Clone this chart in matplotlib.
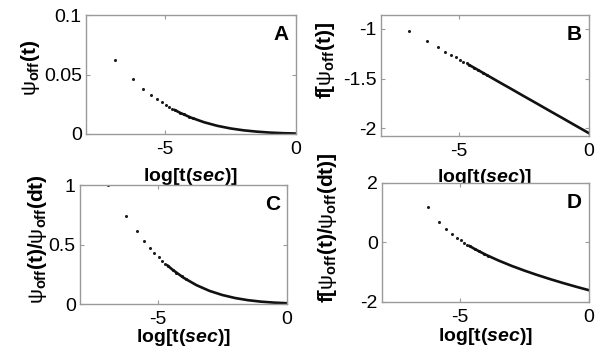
import numpy as np
import matplotlib
matplotlib.use('Agg')
import matplotlib.pyplot as plt

plt.rcParams['font.family'] = ['Liberation Sans', 'DejaVu Sans']
plt.rcParams['mathtext.fontset'] = 'custom'
plt.rcParams['mathtext.rm'] = 'Liberation Sans'
plt.rcParams['mathtext.it'] = 'Liberation Sans:italic'
plt.rcParams['mathtext.bf'] = 'Liberation Sans:bold'
plt.rcParams['mathtext.bfit'] = 'Liberation Sans:italic:bold'

# log[t] of the first, well separated samples
log_t_sparse = [-6.91, -6.21, -5.81, -5.52, -5.30, -5.12, -4.96, -4.83, -4.71, -4.61,
                -4.42, -4.27, -4.07, -3.91]
# dense tail (drawn as a thick run of dots)
log_t_dense = [-4.61, -4.42, -4.0, -3.5, -3.0, -2.5, -2.0, -1.5, -1.0, -0.5, 0.0]

a_sparse = [0.0623, 0.0460, 0.0380, 0.0329, 0.0294, 0.0267, 0.0245, 0.0228, 0.0212, 0.0201,
            0.0179, 0.0164, 0.0145, 0.0131]
a_dense = [0.0201, 0.0179, 0.0138, 0.0099, 0.0069, 0.0047, 0.0031, 0.0020, 0.0012, 0.0007, 0.0004]

b_sparse = [-1.020, -1.125, -1.184, -1.228, -1.260, -1.287, -1.311, -1.330, -1.348, -1.363,
            -1.391, -1.414, -1.443, -1.467]
b_dense = [-1.363, -1.391, -1.454, -1.529, -1.603, -1.678, -1.752, -1.827, -1.901, -1.976, -2.050]

c_sparse = [1.0, 0.738, 0.610, 0.528, 0.472, 0.429, 0.393, 0.366, 0.340, 0.323,
            0.288, 0.263, 0.233, 0.210]
c_dense = [0.323, 0.288, 0.2215, 0.159, 0.111, 0.0759, 0.0502, 0.0321, 0.0199, 0.0119, 0.0067]

d_sparse = [np.nan, 1.186, 0.703, 0.448, 0.284, 0.164, 0.066, -0.009, -0.074, -0.126,
            -0.221, -0.291, -0.378, -0.447]
d_dense = [-0.126, -0.221, -0.410, -0.608, -0.786, -0.947, -1.096, -1.235, -1.366, -1.490, -1.608]

xticks = [-5, 0]
psi = r'\mathrm{\psi}'
panels = [
    # letter, sparse, dense, ylim, yticks, yticklabels, ylabel, axes rect, label coords, xlabel y
    ('A', a_sparse, a_dense, (0, 0.1), [0, 0.05, 0.1], ['0', '0.05', '0.1'],
     r'$%s_{\mathbf{off}}\mathbf{(t)}$' % psi,
     [0.1438, 0.6236, 0.351, 0.334], (-0.21, 0.56), -0.27),
    ('B', b_sparse, b_dense, (-2.078, -0.86), [-2, -1.5, -1], ['-2', '-1.5', '-1'],
     r'$\mathbf{f[}%s_{\mathbf{off}}\mathbf{(t)]}$' % psi,
     [0.637, 0.618, 0.348, 0.340], (-0.21, 0.62), -0.26),
    ('C', c_sparse, c_dense, (0, 1), [0, 0.5, 1], ['0', '0.5', '1'],
     r'$%s_{\mathbf{off}}\mathbf{(t)/}%s_{\mathbf{off}}\mathbf{(dt)}$' % (psi, psi),
     [0.1338, 0.146, 0.346, 0.334], (-0.15, 0.55), -0.19),
    ('D', d_sparse, d_dense, (-2, 2), [-2, 0, 2], ['-2', '0', '2'],
     r'$\mathbf{f[}%s_{\mathbf{off}}\mathbf{(t)/}%s_{\mathbf{off}}\mathbf{(dt)]}$' % (psi, psi),
     [0.639, 0.152, 0.346, 0.334], (-0.21, 0.62), -0.20),
]

fig = plt.figure(figsize=(5.98, 3.56), dpi=100)
frame = '#9a9a9a'

for letter, ys, yd, ylim, yt, ytl, ylab, rect, lc, xl_y in panels:
    ax = fig.add_axes(rect)
    ax.plot(log_t_sparse, ys, 'o', color='#1a1a1a', markersize=2.2, markeredgewidth=0)
    ax.plot(log_t_dense, yd, '-', color='#111111', linewidth=1.9)
    ax.set_xlim(-8, 0)
    ax.set_ylim(*ylim)
    ax.set_xticks(xticks)
    ax.set_xticklabels(['-5', '0'], fontsize=14)
    ax.set_yticks(yt)
    ax.set_yticklabels(ytl, fontsize=14)
    ax.tick_params(direction='in', length=3, color=frame, top=True, right=True,
                   pad=3)
    ax.tick_params(axis='x', pad=5)
    for s in ax.spines.values():
        s.set_color(frame)
        s.set_linewidth(1.0)
    ax.set_xlabel(r'$\mathbf{log[t(}\mathbfit{sec}\mathbf{)]}$', fontsize=14)
    ax.xaxis.set_label_coords(0.5, xl_y)
    ax.xaxis.label.set_va('top')
    ax.set_ylabel(ylab, fontsize=15)
    ax.yaxis.set_label_coords(*lc)
    ax.text(0.93, 0.84, letter, transform=ax.transAxes, ha='center', va='center',
            fontsize=15, fontweight='bold')

fig.savefig('out.png', dpi=100)
